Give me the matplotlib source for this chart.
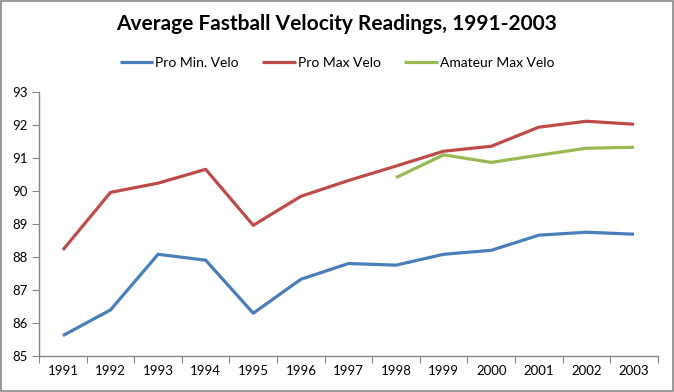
import numpy as np
import matplotlib
matplotlib.use("Agg")
import matplotlib.pyplot as plt
from matplotlib.patches import Rectangle

plt.rcParams['font.family'] = ['Lato', 'DejaVu Sans']

# Data
years = [1991, 1992, 1993, 1994, 1995, 1996, 1997, 1998, 1999, 2000, 2001, 2002, 2003]
pro_min = [85.61, 86.39, 88.08, 87.90, 86.29, 87.32, 87.80, 87.75, 88.08, 88.20, 88.66, 88.75, 88.69]
pro_max = [88.21, 89.96, 90.24, 90.66, 88.96, 89.84, 90.32, 90.76, 91.21, 91.36, 91.94, 92.12, 92.03]
amateur_years = [1998, 1999, 2000, 2001, 2002, 2003]
amateur_max = [90.41, 91.10, 90.87, 91.09, 91.30, 91.33]

fig = plt.figure(figsize=(6.74, 3.92), dpi=100)
ax = fig.add_axes([0.058, 0.0926, 0.918, 0.672])

x = np.arange(len(years))
xa = [years.index(y) for y in amateur_years]

ax.plot(x, pro_min, color='#4A7EBB', lw=2.3, label='Pro Min. Velo', solid_capstyle='butt')
ax.plot(x, pro_max, color='#BE4B48', lw=2.3, label='Pro Max Velo', solid_capstyle='butt')
ax.plot(xa, amateur_max, color='#98B954', lw=2.3, label='Amateur Max Velo', solid_capstyle='butt')

ax.set_xlim(-0.5, len(years) - 0.5)
ax.set_ylim(85, 93)
ax.set_yticks(range(85, 94))

# category axis: ticks between categories, labels at centers
ax.set_xticks(np.arange(-0.5, len(years), 1.0))
ax.set_xticklabels([])
ax.set_xticks(x, minor=True)
ax.set_xticklabels([str(y) for y in years], minor=True)
ax.tick_params(axis='x', which='major', length=5, color='#868686', direction='out')
ax.tick_params(axis='x', which='minor', length=0, pad=7, labelsize=9.5)
ax.tick_params(axis='y', length=5, color='#868686', direction='out', labelsize=9.5, pad=3)

for s in ['top', 'right']:
    ax.spines[s].set_visible(False)
for s in ['left', 'bottom']:
    ax.spines[s].set_color('#868686')
    ax.spines[s].set_linewidth(1.0)

fig.text(0.5, 0.94, 'Average Fastball Velocity Readings, 1991-2003',
         ha='center', va='center', fontsize=15, fontweight='bold')

fig.legend(loc='center', bbox_to_anchor=(0.5, 0.84), ncol=3, frameon=False,
           fontsize=10, handlelength=2.4, handletextpad=0.15, columnspacing=1.7)

fig.patches.append(Rectangle((0.0015, 0.0025), 0.997, 0.995, transform=fig.transFigure,
                             fill=False, edgecolor='#868686', lw=1.2))

fig.savefig('out.png', dpi=100)
